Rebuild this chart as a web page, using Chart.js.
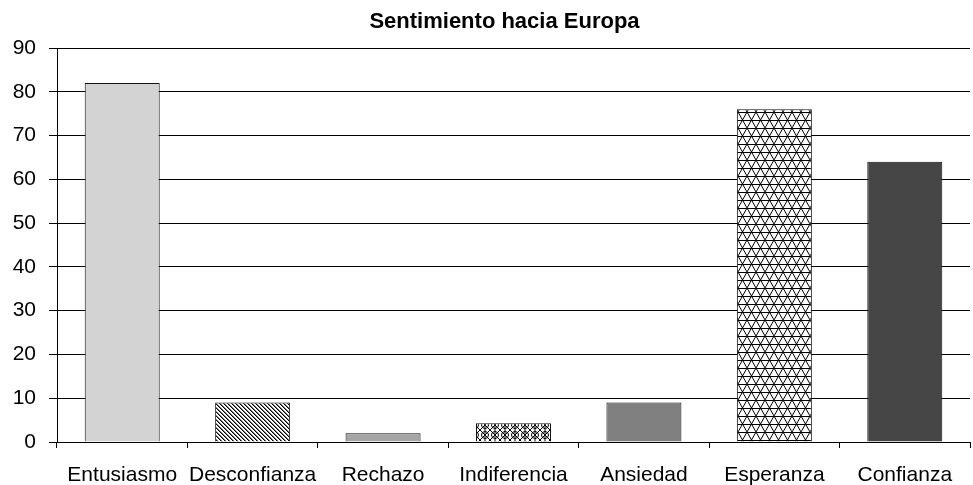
<!DOCTYPE html>
<html>
<head>
<meta charset="utf-8">
<script src="https://cdn.jsdelivr.net/npm/chart.js@4/dist/chart.umd.min.js"></script>
<style>
  body { margin: 0; background: #fff; }
  #wrap { width: 973px; height: 485px; }
</style>
</head>
<body>
<div id="wrap"><canvas id="sentChart"></canvas></div>
<script>
// data
const categories = ['Entusiasmo', 'Desconfianza', 'Rechazo', 'Indiferencia', 'Ansiedad', 'Esperanza', 'Confianza'];
const values = [82, 9, 2, 4.3, 9, 76, 64];
const yMin = 0;
const yMax = 90;
const yStep = 10;
const chartTitle = 'Sentimiento hacia Europa';

// small tile canvases used as fill patterns
function makeTile(w, h, draw) {
  const c = document.createElement('canvas');
  c.width = w;
  c.height = h;
  const g = c.getContext('2d');
  g.fillStyle = '#fff';
  g.fillRect(0, 0, w, h);
  g.strokeStyle = '#000';
  g.fillStyle = '#000';
  g.lineWidth = 1;
  draw(g);
  return g.createPattern(c, 'repeat');
}

// "\\\\" hatching
const hatch = makeTile(4, 4, g => {
  for (let i = 0; i < 4; i++) {
    g.fillStyle = '#000';
    g.fillRect(i, i, 1, 1);
    g.fillStyle = '#777';
    g.fillRect((i + 1) % 4, i, 1, 1);
  }
});

// trellis / circles
const trellis = makeTile(10, 10, g => {
  g.beginPath();
  g.moveTo(0, 0); g.lineTo(10, 10);
  g.moveTo(10, 0); g.lineTo(0, 10);
  g.moveTo(5, 0); g.lineTo(5, 10);
  g.stroke();
  g.beginPath();
  g.arc(5, 5, 3.5, 0, Math.PI * 2);
  g.stroke();
});

// triangle lattice
const triangles = makeTile(9, 16, g => {
  g.beginPath();
  g.moveTo(0, 16); g.lineTo(9, 0);
  g.moveTo(9, 16); g.lineTo(0, 0);
  g.moveTo(0, 0.5); g.lineTo(9, 0.5);
  g.moveTo(0, 8.5); g.lineTo(9, 8.5);
  g.stroke();
});

const fills = ['#d3d3d3', hatch, '#a6a6a6', trellis, '#808080', triangles, '#464646'];

const font = 'Arial, "Liberation Sans", sans-serif';

// title drawn a little left of the plot centre, like the original
const titlePlugin = {
  id: 'titlePlugin',
  afterDraw(chart) {
    const { ctx, chartArea } = chart;
    ctx.save();
    ctx.font = 'bold 22px ' + font;
    ctx.fillStyle = '#000';
    ctx.textAlign = 'center';
    ctx.textBaseline = 'alphabetic';
    ctx.fillText(chartTitle, (chartArea.left + chartArea.right) / 2 - 9, 28);
    ctx.restore();
  },
};

const ctx = document.getElementById('sentChart');
const sentChart = new Chart(ctx, {
  type: 'bar',
  data: {
    labels: categories,
    datasets: [
      {
        data: values,
        backgroundColor: fills,
        borderColor: '#111',
        borderWidth: 1,
        borderSkipped: 'bottom',
        categoryPercentage: 1.0,
        barPercentage: 0.575,
      },
    ],
  },
  plugins: [titlePlugin],
  options: {
    responsive: true,
    maintainAspectRatio: false,
    animation: false,
    layout: {
      padding: { left: 6, right: 3, top: 48, bottom: 0 },
    },
    plugins: {
      legend: { display: false },
      tooltip: { enabled: false },
      title: { display: false },
    },
    scales: {
      x: {
        afterFit: scale => { scale.height = 43; },
        grid: {
          drawOnChartArea: false,
          drawTicks: true,
          tickLength: 6,
          color: '#000',
          offset: true,
        },
        border: { display: true, color: '#000', width: 1 },
        ticks: {
          color: '#000',
          font: { family: font, size: 21, lineHeight: 1.1 },
          padding: 16,
          maxRotation: 0,
          autoSkip: false,
        },
      },
      y: {
        min: yMin,
        max: yMax,
        afterFit: scale => { scale.width = 51; },
        grid: {
          color: '#000',
          lineWidth: 1,
          tickLength: 8,
        },
        border: { display: true, color: '#000', width: 1 },
        ticks: {
          stepSize: yStep,
          color: '#000',
          font: { family: font, size: 21, lineHeight: 1 },
          padding: 13,
        },
      },
    },
  },
});
</script>
</body>
</html>
